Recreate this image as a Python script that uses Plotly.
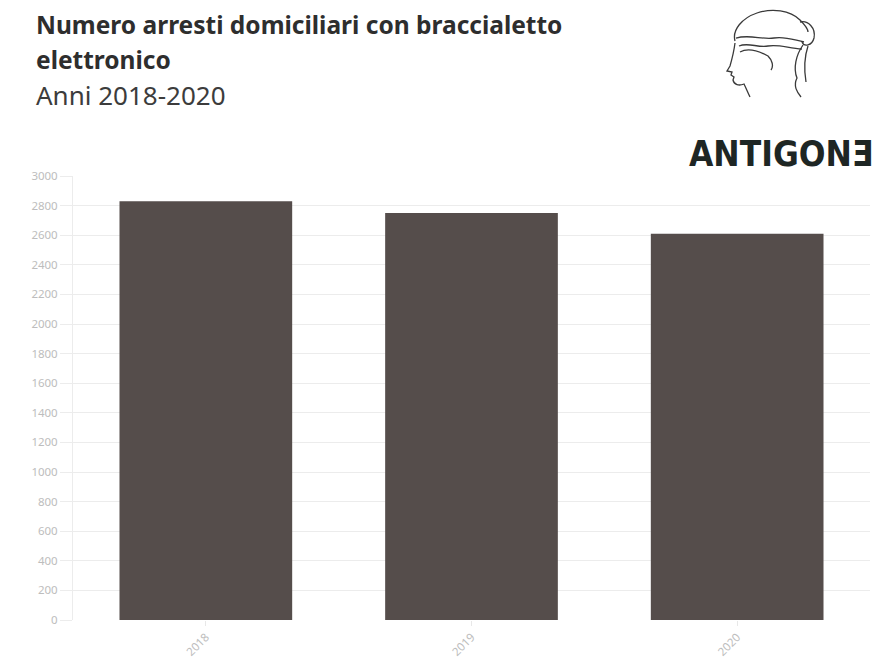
import plotly.graph_objects as go

# Data
anni = ["2018", "2019", "2020"]
arresti_braccialetto = [2830, 2750, 2610]
y_ticks = list(range(0, 3001, 200))

W, H = 880, 666
L, R, T, B = 73, 10, 176, 46
PW, PH = W - L - R, H - T - B


def px(x, y):
    """Pixel position on the page -> paper coordinates."""
    return (x - L) / PW, (H - B - y) / PH


HEAD_DX = -18  # horizontal shift of the head drawing


def path(cmds):
    out = []
    for c in cmds:
        if isinstance(c, str):
            out.append(c)
        else:
            xp, yp = px(c[0] + HEAD_DX, c[1])
            out.append(f"{xp:.5f},{yp:.5f}")
    return " ".join(out)


fig = go.Figure()
fig.add_trace(go.Bar(
    x=anni, y=arresti_braccialetto,
    marker=dict(color="#554d4b", line=dict(width=0)),
    hoverinfo="x+y",
))

# Logo head, drawn as line art
ink = dict(color="#3a3a3a", width=1.3)
head_paths = [
    # cap outline
    ["M", (753, 41), "C", (750, 30), (760, 18), (775, 13), "C", (790, 8), (808, 10), (818, 20),
     "C", (823, 25), (826, 29), (826, 32)],
    # band
    ["M", (754, 38), "C", (768, 34), (780, 40), (792, 38), "C", (803, 36), (812, 40), (822, 42)],
    ["M", (757, 46), "C", (766, 42), (776, 48), (786, 46), "C", (796, 44), (806, 48), (820, 49)],
    # face profile
    ["M", (753, 43), "C", (752, 51), (750, 59), (748, 66), "L", (745, 71), "L", (750, 72),
     "L", (749, 75), "L", (752, 77), "L", (751, 80), "C", (752, 85), (757, 86), (762, 84),
     "C", (764, 88), (766, 93), (768, 97)],
    # hairline and ear
    ["M", (758, 52), "C", (765, 48), (775, 50), (786, 56), "C", (790, 60), (792, 66), (789, 70)],
    # tail of hair behind the neck
    ["M", (821, 45), "C", (814, 55), (811, 68), (815, 78), "C", (811, 86), (815, 92), (819, 97)],
    ["M", (826, 46), "C", (822, 58), (822, 70), (824, 82)],
    # bun
    ["M", (818, 22), "C", (826, 20), (834, 28), (832, 38), "C", (830, 46), (822, 47), (820, 42)],
]
shapes = [dict(type="path", xref="paper", yref="paper", path=path(p), line=ink)
          for p in head_paths]

annotations = []


def text_at(x, y, txt, size, color, family, bold=False, anchor="left"):
    xp, yp = px(x, y)
    annotations.append(dict(
        xref="paper", yref="paper", x=xp, y=yp, xanchor=anchor, yanchor="bottom",
        text=f"<b>{txt}</b>" if bold else txt, showarrow=False,
        font=dict(size=size, color=color, family=family),
    ))


text_at(34, 43, "Numero arresti domiciliari con braccialetto", 24.5, "#2e2e2e", "Noto Sans", bold=True)
text_at(34, 78, "elettronico", 24.5, "#2e2e2e", "Noto Sans", bold=True)
text_at(34, 115, "Anni 2018-2020", 26, "#3c3c3c", "Noto Sans")
text_at(875, 176, "ANTIGONƎ", 35, "#1e2624",
        "DejaVu Sans Condensed, DejaVu Sans", bold=True, anchor="right")

fig.update_layout(
    width=W, height=H,
    margin=dict(l=L, r=R, t=T, b=B, autoexpand=False),
    paper_bgcolor="white", plot_bgcolor="white",
    bargap=0.35,
    showlegend=False,
    shapes=shapes,
    annotations=annotations,
    xaxis=dict(
        tickangle=-45, tickfont=dict(size=11.5, color="#bdbdbd", family="Noto Sans"),
        ticks="outside", ticklen=5, tickcolor="#e8e8e8",
        showgrid=False, showline=False, zeroline=False, automargin=False,
    ),
    yaxis=dict(
        range=[0, 3000], tickvals=y_ticks, ticktext=[str(v) for v in y_ticks],
        tickfont=dict(size=11.5, color="#bdbdbd", family="Noto Sans"),
        ticks="outside", ticklen=12, tickcolor="#ececec",
        showgrid=True, gridcolor="#ececec", gridwidth=1,
        showline=True, linecolor="#ececec", linewidth=1,
        zeroline=False, automargin=False,
    ),
)

fig.write_html("out.html")
